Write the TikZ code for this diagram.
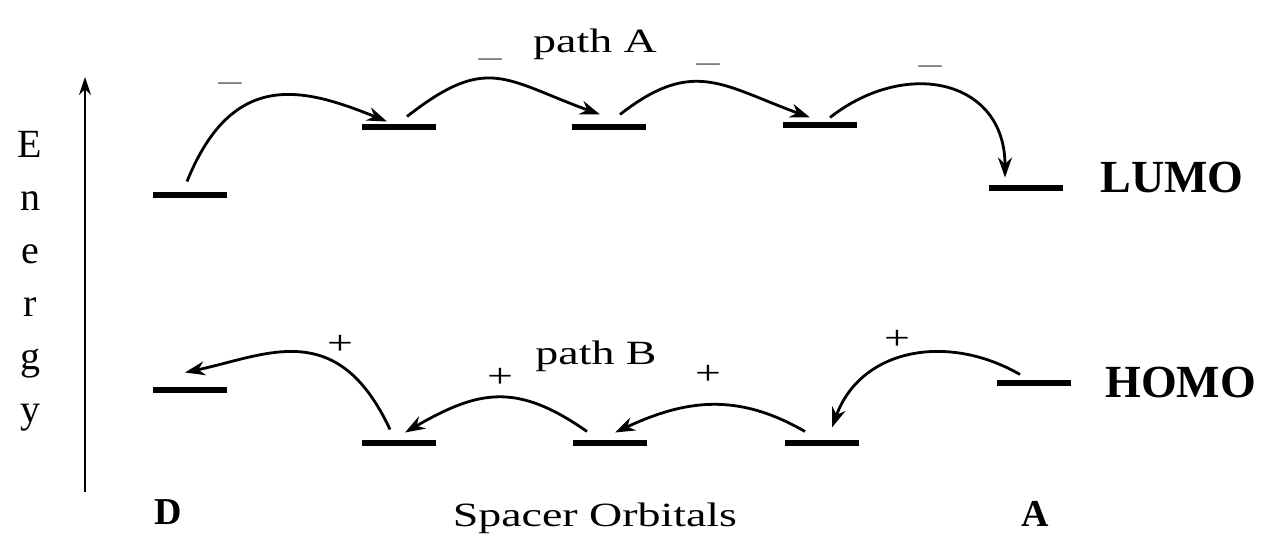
\documentclass[tikz,border=0pt]{standalone}
\usepackage{fontspec}
\setmainfont{Liberation Serif}
\newfontfamily\widefont{Liberation Serif}[FakeStretch=1.35]
\usetikzlibrary{arrows.meta}
\tikzset{>=Stealth,
  lvl/.style={fill=black, inner sep=0pt, minimum width=37pt, minimum height=2.6pt},
  hop/.style={line width=1.4pt, -{Stealth[length=10pt,width=7pt]}},
  axis/.style={line width=1.3pt, -{Stealth[length=9pt,width=6pt]}},
  lbl/.style={font=\widefont\fontsize{17}{20}\selectfont, inner sep=0pt, anchor=base},
  sgn/.style={font=\widefont\fontsize{17}{20}\selectfont, inner sep=0pt},
  orb/.style={font=\bfseries\fontsize{23}{26}\selectfont, inner sep=0pt, anchor=base west},
  site/.style={font=\bfseries\fontsize{19}{22}\selectfont, inner sep=0pt, anchor=base},
  elet/.style={font=\fontsize{20}{22}\selectfont, inner sep=0pt, anchor=base}}

\begin{document}
\begin{tikzpicture}[x=0.5pt, y=0.5pt]
  \useasboundingbox (0,0) rectangle (1264,549);
  % energy axis
  \coordinate (eLow) at (85,57);
  \coordinate (eHigh) at (85,472);
  \draw[axis] (eLow) -- (eHigh);
  \foreach \ch [count=\i from 0] in {E,n,e,r,g,y}
    \node[elet] (en\i) at (30,{391-53*\i}) {\ch};

  % LUMO levels
  \node[lvl] (lumoD) at (189.5,354) {};
  \node[lvl] (lumoS1) at (398.5,422) {};
  \node[lvl] (lumoS2) at (608.5,422) {};
  \node[lvl] (lumoS3) at (820,424) {};
  \node[lvl] (lumoA) at (1026,361) {};
  % HOMO levels
  \node[lvl] (homoD) at (189.5,159) {};
  \node[lvl] (homoS1) at (399,106) {};
  \node[lvl] (homoS2) at (609.5,106) {};
  \node[lvl] (homoS3) at (821.5,106) {};
  \node[lvl] (homoA) at (1033.5,166) {};

  % path A (electron)
  \draw[hop] ([shift={(-2.5,10.5)}]lumoD.north) to[out=68,in=158,out looseness=1.5,in looseness=1.1] ([shift={(-11.5,2.5)}]lumoS1.north);
  \draw[hop] ([shift={(8.5,7.5)}]lumoS1.north) to[out=38,in=160,looseness=1.35] ([shift={(-8.5,9.5)}]lumoS2.north);
  \draw[hop] ([shift={(11.5,9.5)}]lumoS2.north) to[out=38,in=160,looseness=1.25] ([shift={(-10,4.5)}]lumoS3.north);
  \draw[hop] ([shift={(10,4.5)}]lumoS3.north) to[out=38,in=90,looseness=1.35] ([shift={(-21,7.5)}]lumoA.north);
  \node[sgn, black!55] (mA1) at (230,462) {–};
  \node[sgn, black!55] (mA2) at (490,486) {–};
  \node[sgn, black!55] (mA3) at (708,481) {–};
  \node[sgn, black!55] (mA4) at (930,479) {–};
  \node[lbl] (pathA) at (595,496) {path A};

  % path B (hole)
  \draw[hop] ([shift={(-9,10.5)}]homoS1.north) to[out=115,in=12,out looseness=1.5,in looseness=1.0] ([shift={(-4.5,14.5)}]homoD.north);
  \draw[hop] ([shift={(-22.5,8.5)}]homoS2.north) to[out=145,in=30,looseness=1.2] ([shift={(6,7.5)}]homoS1.north);
  \draw[hop] ([shift={(-16.5,8.5)}]homoS3.north) to[out=150,in=25,looseness=1.05] ([shift={(5.5,7.5)}]homoS2.north);
  \draw[hop] ([shift={(-13.5,5.5)}]homoA.north) to[out=150,in=70,looseness=1.1] ([shift={(10.5,12.5)}]homoS3.north);
  \node[sgn] (pB1) at (340,204) {+};
  \node[sgn] (pB2) at (500,171) {+};
  \node[sgn] (pB3) at (708,174) {+};
  \node[sgn] (pB4) at (897,209) {+};
  \node[lbl] (pathB) at (596,184) {path B};

  \node[orb] (lumoLbl) at (1100,356) {LUMO};
  \node[orb] (homoLbl) at (1105,151) {HOMO};
  \node[site] (donor) at (168,24) {D};
  \node[site] (acceptor) at (1035,22) {A};
  \node[lbl] (spacer) at (595,22) {Spacer Orbitals};
\end{tikzpicture}
\end{document}
